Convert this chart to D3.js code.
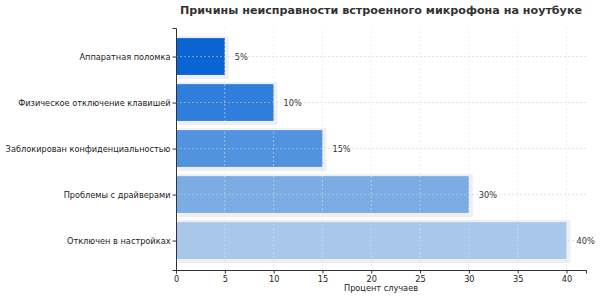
<!DOCTYPE html>
<html>
<head>
<meta charset="utf-8">
<script src="https://cdn.jsdelivr.net/npm/d3@7"></script>
<style>
  body { margin: 0; background: #fff; }
  svg { font-family: "DejaVu Sans", sans-serif; }
</style>
</head>
<body>
<div class="chart"></div>
<script>
// categories listed bottom to top
const categories = [
    "Отключен в настройках",
    "Проблемы с драйверами",
    "Заблокирован конфиденциальностью",
    "Физическое отключение клавишей",
    "Аппаратная поломка"
];
const values = [40, 30, 15, 10, 5];
const barColors = ["#a8c7ea", "#7badE4", "#5293e0", "#2f7edb", "#0a64d4"];
const xTicks = [0, 5, 10, 15, 20, 25, 30, 35, 40];

const width = 600, height = 297;
const margin = {left: 176, right: 14, top: 28, bottom: 27};

const svg = d3.select(".chart").append("svg")
    .attr("width", width)
    .attr("height", height);

const x = d3.scaleLinear()
    .domain([0, 42])
    .range([margin.left, width - margin.right]);

const y = d3.scaleLinear()
    .domain([-0.64, 4.62])
    .range([height - margin.bottom, margin.top]);

const bh = y(0) - y(0.8);

const data = categories.map((c, i) => ({cat: c, value: values[i], color: barColors[i], i: i}));

// shadows
svg.append("g").selectAll("rect")
    .data(data)
    .join("rect")
    .attr("x", x(0) + 2)
    .attr("y", d => y(d.i + 0.4) - 2)
    .attr("width", d => x(d.value) - x(0) + 2)
    .attr("height", bh + 6)
    .attr("fill", "#efefef");

// bars
svg.append("g").selectAll("rect")
    .data(data)
    .join("rect")
    .attr("x", x(0))
    .attr("y", d => y(d.i + 0.4))
    .attr("width", d => x(d.value) - x(0))
    .attr("height", bh)
    .attr("fill", d => d.color);

// grid
const grid = svg.append("g")
    .attr("stroke", "#e2e2e2")
    .attr("stroke-opacity", 0.7)
    .attr("stroke-width", 0.8)
    .attr("stroke-dasharray", "2,2");
grid.selectAll("line.v")
    .data(xTicks.slice(1))
    .join("line")
    .attr("class", "v")
    .attr("x1", d => x(d)).attr("x2", d => x(d))
    .attr("y1", y(4.62)).attr("y2", y(-0.64));
grid.selectAll("line.h")
    .data(data)
    .join("line")
    .attr("class", "h")
    .attr("stroke", "#cccccc")
    .attr("x1", x(0)).attr("x2", x(42))
    .attr("y1", d => y(d.i)).attr("y2", d => y(d.i));

// value labels
svg.append("g").attr("class", "vals").selectAll("text")
    .data(data)
    .join("text")
    .attr("x", d => x(d.value) + 10)
    .attr("y", d => y(d.i))
    .attr("dy", "0.35em")
    .attr("font-size", 9)
    .attr("fill", "#333")
    .text(d => d.value + "%");

// axes
const xAxis = svg.append("g")
    .attr("transform", `translate(0,${height - margin.bottom})`)
    .call(d3.axisBottom(x).tickValues(xTicks).tickSize(3.5).tickPadding(2));
xAxis.select(".domain").attr("stroke", "#333");

const yAxis = svg.append("g")
    .attr("transform", `translate(${margin.left},0)`)
    .call(d3.axisLeft(y).tickValues(d3.range(categories.length))
        .tickFormat(i => categories[i]).tickSize(3.5).tickPadding(2));
yAxis.select(".domain").attr("stroke", "#333");

svg.selectAll(".tick text")
    .attr("font-size", 9)
    .attr("font-family", "DejaVu Sans, sans-serif")
    .attr("fill", "#222");
svg.selectAll(".tick line").attr("stroke", "#333");

svg.append("text")
    .attr("x", (x(0) + x(42)) / 2)
    .attr("y", 291)
    .attr("text-anchor", "middle")
    .attr("font-size", 9)
    .attr("fill", "#222")
    .text("Процент случаев");

// the picture is a bit narrower horizontally than the font, squeeze the text
svg.selectAll("text").each(function () {
    const len = this.getComputedTextLength();
    d3.select(this).attr("textLength", len * 0.91).attr("lengthAdjust", "spacingAndGlyphs");
});

svg.append("text")
    .attr("x", (x(0) + x(42)) / 2)
    .attr("y", 14)
    .attr("text-anchor", "middle")
    .attr("font-size", 11)
    .attr("font-weight", "bold")
    .attr("fill", "#333")
    .attr("textLength", 402)
    .attr("lengthAdjust", "spacingAndGlyphs")
    .text("Причины неисправности встроенного микрофона на ноутбуке");
</script>
</body>
</html>
